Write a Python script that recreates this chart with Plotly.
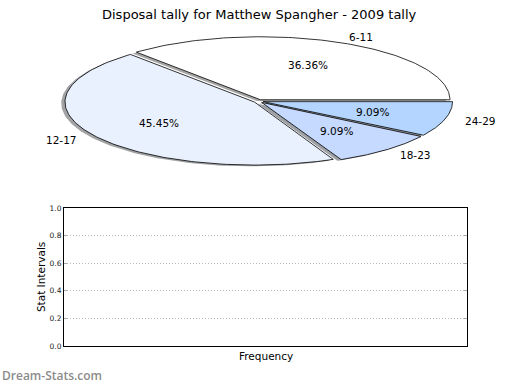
import numpy as np
import plotly.graph_objects as go

# ---- data ----
categories = ["6-11", "12-17", "18-23", "24-29"]
counts = [4, 5, 1, 1]
slice_colors = ["#ffffff", "#eaf1fe", "#c6d9ff", "#b3d5ff"]
y_ticks = [0.0, 0.2, 0.4, 0.6, 0.8, 1.0]
y_tick_labels = ["0.0", "0.2", "0.4", "0.6", "0.8", "1.0"]
title_text = "Disposal tally for Matthew Spangher - 2009 tally"
x_title = "Frequency"
y_title = "Stat Intervals"
watermark = "Dream-Stats.com"

# ---- pie geometry parameters (matplotlib-like) ----
explode = 0.025
label_dist = 1.1
pct_dist = 0.6
shadow_off = (-0.02, -0.02)

W, H = 520, 390
cx_px, cy_px = 258.5, 99.5
rx_px, ry_px = 189.5, 64.5
PL, PR, PT, PB = 64, 467, 209, 350  # bottom plot frame (px)

fig = go.Figure()

total = float(sum(counts))
fracs = [c / total for c in counts]
starts = np.cumsum([0.0] + fracs[:-1]) * 360.0
ends = np.cumsum(fracs) * 360.0


def wedge(t1, t2, ox, oy):
    th = np.radians(np.linspace(t1, t2, 120))
    xs = np.concatenate([[ox], ox + np.cos(th), [ox]])
    ys = np.concatenate([[oy], oy + np.sin(th), [oy]])
    return xs, ys


def shade(hexcol):
    h = hexcol.lstrip("#")
    r, g, b = (int(h[i:i + 2], 16) for i in (0, 2, 4))
    return "rgba(%d,%d,%d,0.5)" % (r * 0.3, g * 0.3, b * 0.3)


FONT = "DejaVu Sans"
annotations = []
# shadows
for i, cat in enumerate(categories):
    mid = np.radians((starts[i] + ends[i]) / 2)
    ox, oy = explode * np.cos(mid), explode * np.sin(mid)
    xs, ys = wedge(starts[i], ends[i], ox + shadow_off[0], oy + shadow_off[1])
    fig.add_trace(go.Scatter(x=xs, y=ys, mode="lines", fill="toself",
                             fillcolor=shade(slice_colors[i]),
                             line=dict(width=0),
                             hoverinfo="skip", showlegend=False,
                             xaxis="x", yaxis="y"))
# wedges
for i, cat in enumerate(categories):
    mid = np.radians((starts[i] + ends[i]) / 2)
    ox, oy = explode * np.cos(mid), explode * np.sin(mid)
    xs, ys = wedge(starts[i], ends[i], ox, oy)
    fig.add_trace(go.Scatter(x=xs, y=ys, mode="lines", fill="toself",
                             fillcolor=slice_colors[i],
                             line=dict(color="black", width=0.8),
                             name=cat, showlegend=False,
                             xaxis="x", yaxis="y"))
    lx = ox + label_dist * np.cos(mid)
    ly = oy + label_dist * np.sin(mid)
    annotations.append(dict(x=lx, y=ly, xref="x", yref="y", text=cat,
                            showarrow=False,
                            xanchor="left" if lx > 0 else "right",
                            yanchor="middle",
                            font=dict(family=FONT, size=10.5, color="black")))
    px_ = ox + pct_dist * np.cos(mid)
    py_ = oy + pct_dist * np.sin(mid)
    annotations.append(dict(x=px_, y=py_, xref="x", yref="y",
                            text="%.2f%%" % (fracs[i] * 100),
                            showarrow=False, xanchor="center", yanchor="middle",
                            font=dict(family=FONT, size=10.5, color="black")))

# empty plot (no data)
fig.add_trace(go.Scatter(x=[], y=[], xaxis="x2", yaxis="y2", showlegend=False))

pie_top, pie_bot = 0.0, 195.0
fig.update_layout(
    width=W, height=H,
    margin=dict(l=0, r=0, t=0, b=0),
    paper_bgcolor="white", plot_bgcolor="white",
    showlegend=False,
    xaxis=dict(domain=[0, 1], range=[-cx_px / rx_px, (W - cx_px) / rx_px],
               visible=False, fixedrange=True),
    yaxis=dict(domain=[1 - pie_bot / H, 1 - pie_top / H],
               range=[-(pie_bot - cy_px) / ry_px, (cy_px - pie_top) / ry_px],
               visible=False, fixedrange=True),
    xaxis2=dict(domain=[PL / W, PR / W], anchor="y2", range=[0, 1],
                showline=True, linecolor="black", linewidth=1, mirror=True,
                showticklabels=False, showgrid=False, zeroline=False, ticks=""),
    yaxis2=dict(domain=[(H - PB) / H, (H - PT) / H], anchor="x2", range=[0, 1],
                tickvals=y_ticks, ticktext=y_tick_labels,
                tickfont=dict(family=FONT, size=7.5, color="#222"),
                showline=True, linecolor="black", linewidth=1, mirror="allticks",
                ticks="inside", ticklen=3, tickcolor="#aaaaaa", tickwidth=1,
                showgrid=True, gridcolor="#b8b8b8", griddash="1px,2px", gridwidth=1,
                zeroline=False),
    annotations=annotations + [
        dict(x=259.5 / W, y=1 - 11 / H, xref="paper", yref="paper", text=title_text,
             showarrow=False, xanchor="center", yanchor="middle",
             font=dict(family=FONT, size=13, color="black")),
        dict(x=(PL + PR) / 2 / W, y=1 - 360 / H, xref="paper", yref="paper",
             text=x_title, showarrow=False, xanchor="center", yanchor="middle",
             font=dict(family=FONT, size=10.5, color="black")),
        dict(x=41 / W, y=1 - (PT + PB) / 2 / H, xref="paper", yref="paper",
             text=y_title, textangle=-90, showarrow=False,
             xanchor="center", yanchor="middle",
             font=dict(family=FONT, size=10.5, color="black")),
        dict(x=0, y=1 - 380 / H, xref="paper", yref="paper", text=watermark,
             showarrow=False, xanchor="left", yanchor="middle",
             font=dict(family="Open Sans", size=12, color="#8c8c8c", weight=600)),
    ],
)

fig.write_html("out.html", config={"displayModeBar": False},
               post_script="document.body.style.margin='0';document.body.style.overflow='hidden';")
